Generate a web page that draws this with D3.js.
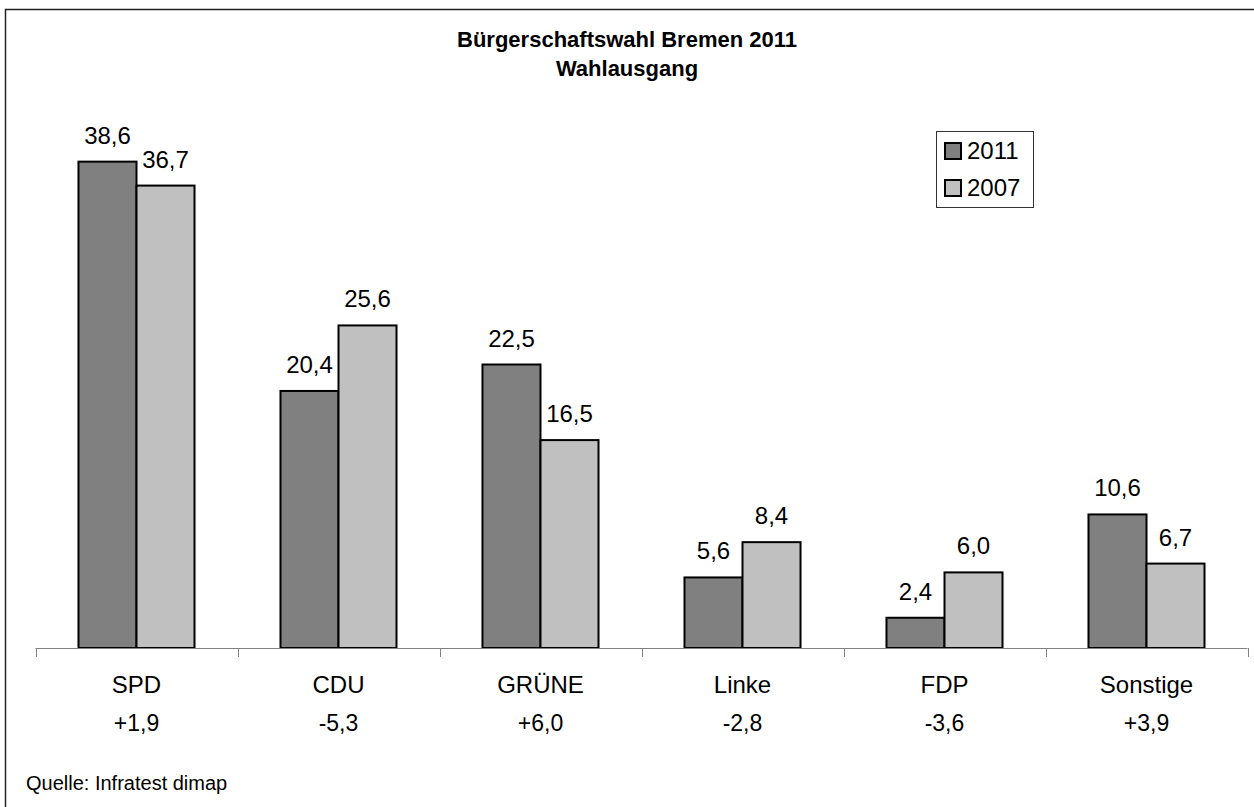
<!DOCTYPE html>
<html>
<head>
<meta charset="utf-8">
<script src="https://cdn.jsdelivr.net/npm/d3@7"></script>
<style>
  body { margin: 0; background: #fff; }
  svg { display: block; font-family: "Liberation Sans", Arial, sans-serif; }
</style>
</head>
<body>
<svg id="chart" width="1254" height="807"></svg>
<script>
"use strict";

// data
var parties  = ["SPD", "CDU", "GRÜNE", "Linke", "FDP", "Sonstige"];
var changes  = ["+1,9", "-5,3", "+6,0", "-2,8", "-3,6", "+3,9"];
var series   = ["2011", "2007"];
var vals2011 = [38.6, 20.4, 22.5, 5.6, 2.4, 10.6];
var vals2007 = [36.7, 25.6, 16.5, 8.4, 6.0, 6.7];
var colours  = ["#808080", "#c0c0c0"];

var svg = d3.select("#chart");
var fmt = function(v) { return d3.format(".1f")(v).replace(".", ","); };

// outer frame (runs off the right/bottom edge)
svg.append("rect")
  .attr("x", 5.5).attr("y", 9.5)
  .attr("width", 1270).attr("height", 830)
  .style("fill", "#fff").style("stroke", "#222").style("stroke-width", 1.5);

// title
var title = svg.append("text")
  .attr("text-anchor", "middle")
  .style("font-weight", "bold").style("font-size", "22px");
title.append("tspan").attr("x", 627).attr("y", 47).text("Bürgerschaftswahl Bremen 2011");
title.append("tspan").attr("x", 627).attr("y", 76).text("Wahlausgang");

// scales
var x0 = d3.scaleBand().domain(parties).range([35.5, 1247.5]).padding(0);
var x1 = d3.scaleBand().domain(series).range([0, x0.bandwidth()]).paddingOuter(0.741);
var y  = d3.scaleLinear().domain([0, 40]).range([648, 144]);
var colour = d3.scaleOrdinal().domain(series).range(colours);

var rows = parties.map(function(p, i) {
  return { party: p, change: changes[i],
           values: [ { s: "2011", v: vals2011[i] }, { s: "2007", v: vals2007[i] } ] };
});

// bars
var groups = svg.selectAll("g.party")
  .data(rows).enter()
  .append("g")
    .attr("class", "party")
    .attr("transform", function(d) { return "translate(" + x0(d.party) + ",0)"; });

groups.selectAll("rect")
  .data(function(d) { return d.values; }).enter()
  .append("rect")
    .attr("x", function(d) { return x1(d.s); })
    .attr("y", function(d) { return y(d.v); })
    .attr("width", x1.bandwidth())
    .attr("height", function(d) { return y(0) - y(d.v); })
    .style("fill", function(d) { return colour(d.s); })
    .style("stroke", "#000").style("stroke-width", 2);

// value labels
groups.selectAll("text.val")
  .data(function(d) { return d.values; }).enter()
  .append("text")
    .attr("class", "val")
    .attr("text-anchor", "middle")
    .attr("x", function(d) { return x1(d.s) + x1.bandwidth() / 2; })
    .attr("y", function(d) { return y(d.v) - 18; })
    .style("font-size", "24px")
    .text(function(d) { return fmt(d.v); });

// axis line with ticks between categories
var axis = svg.append("g").style("stroke", "#808080").style("stroke-width", 1);
axis.append("line")
  .attr("x1", x0.range()[0]).attr("x2", x0.range()[1])
  .attr("y1", y(0) + 0.5).attr("y2", y(0) + 0.5);
var tickXs = parties.map(function(p) { return x0(p); }).concat([x0.range()[1]]);
axis.selectAll("line.tick")
  .data(tickXs).enter()
  .append("line")
    .attr("class", "tick")
    .attr("x1", function(d) { return Math.round(d) + 0.5; })
    .attr("x2", function(d) { return Math.round(d) + 0.5; })
    .attr("y1", y(0)).attr("y2", y(0) + 9);

// category labels + change
groups.append("text")
  .attr("text-anchor", "middle")
  .attr("x", x0.bandwidth() / 2).attr("y", 693)
  .style("font-size", "24px")
  .text(function(d) { return d.party; });
groups.append("text")
  .attr("text-anchor", "middle")
  .attr("x", x0.bandwidth() / 2).attr("y", 731)
  .style("font-size", "23px")
  .text(function(d) { return d.change; });

// legend
var legend = svg.append("g");
legend.append("rect")
  .attr("x", 936.5).attr("y", 131.5).attr("width", 97).attr("height", 76)
  .style("fill", "#fff").style("stroke", "#333").style("stroke-width", 1);
var items = legend.selectAll("g.item")
  .data(series).enter()
  .append("g")
    .attr("class", "item")
    .attr("transform", function(d, i) { return "translate(945," + (143 + i * 37) + ")"; });
items.append("rect")
  .attr("width", 16).attr("height", 16)
  .style("fill", function(d) { return colour(d); })
  .style("stroke", "#000").style("stroke-width", 2);
items.append("text")
  .attr("x", 22).attr("y", 16)
  .style("font-size", "24px")
  .text(function(d) { return d; });

// source
svg.append("text")
  .attr("x", 26).attr("y", 790)
  .style("font-size", "20px")
  .text("Quelle: Infratest dimap");
</script>
</body>
</html>
